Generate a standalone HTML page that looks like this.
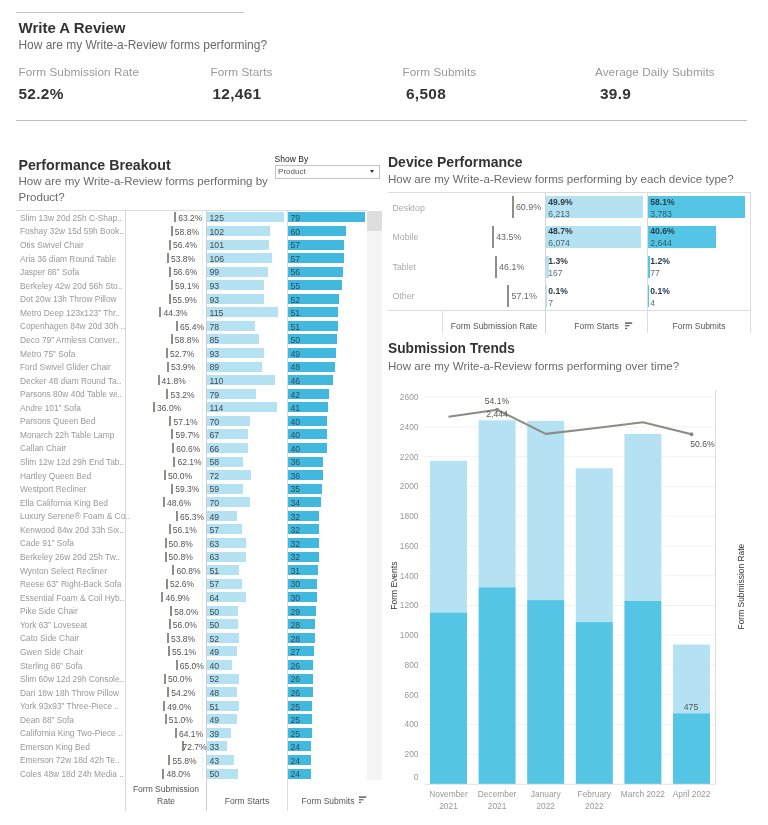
<!DOCTYPE html>
<html><head><meta charset="utf-8"><title>Write A Review</title>
<style>
html,body{margin:0;padding:0;background:#fff;}
body{width:768px;height:825px;position:relative;overflow:hidden;font-family:"Liberation Sans",sans-serif;color:#333;}
.a{position:absolute;white-space:nowrap;line-height:1;}
.h1{font-size:15px;font-weight:bold;color:#333;}
.sub{font-size:11.55px;color:#6a6a6a;}
.kl{font-size:11.75px;color:#999;letter-spacing:0.05px;}
.kv{font-size:15.4px;font-weight:bold;color:#333;letter-spacing:0.3px;}
.rl{font-size:8.4px;color:#999;left:20px;}
.rt{font-size:8.5px;color:#555;}
.bl{font-size:8.7px;color:#3f4a50;}
.hd{font-size:8.5px;color:#555;text-align:center;}
.ln{position:absolute;background:#ccc;}
.bar{position:absolute;}
.ax{font-size:8.4px;color:#999;}
</style></head><body>

<div class="ln" style="left:15.5px;top:12.3px;width:228.5px;height:1px;background:#c4c4c4"></div>
<div class="a h1" style="left:18.5px;top:20px">Write A Review</div>
<div class="a sub" style="left:18.5px;top:40px;font-size:11.95px">How are my Write-a-Review forms performing?</div>
<div class="a kl" style="left:18.5px;top:66px">Form Submission Rate</div>
<div class="a kv" style="left:18.5px;top:86px">52.2%</div>
<div class="a kl" style="left:210.5px;top:66px">Form Starts</div>
<div class="a kv" style="left:212.5px;top:86px">12,461</div>
<div class="a kl" style="left:402.5px;top:66px">Form Submits</div>
<div class="a kv" style="left:406px;top:86px">6,508</div>
<div class="a kl" style="left:595px;top:66px">Average Daily Submits</div>
<div class="a kv" style="left:600px;top:86px">39.9</div>
<div class="ln" style="left:16px;top:119.5px;width:731px;height:1.5px;background:#bdbdbd"></div>
<div class="a h1" style="left:18.5px;top:157.5px;font-size:14.2px">Performance Breakout</div>
<div class="a sub" style="left:18.5px;top:176px;">How are my Write-a-Review forms performing by</div>
<div class="a sub" style="left:18.5px;top:191.6px;">Product?</div>
<div class="a" style="left:274.6px;top:154.6px;font-size:8.5px;color:#222;">Show By</div>
<div class="a" style="left:274.5px;top:165px;width:105px;height:13.5px;border:1px solid #c4c4c4;box-sizing:border-box;background:#fff;font-size:8px;color:#555;"><span style="position:absolute;left:2.6px;top:2.4px">Product</span><span style="position:absolute;right:4.3px;top:4.2px;width:0;height:0;border-left:2px solid transparent;border-right:2px solid transparent;border-top:3px solid #333"></span></div>
<div class="ln" style="left:16px;top:210px;width:351px;height:1px;background:#dcdcdc"></div>
<div class="ln" style="left:125px;top:210px;width:1px;height:601px;background:#d8d8d8"></div>
<div class="ln" style="left:202px;top:210px;width:1px;height:570px;background:#eeeeee"></div>
<div class="ln" style="left:206px;top:210px;width:1px;height:601px;background:#cfcfcf"></div>
<div class="ln" style="left:287px;top:210px;width:1px;height:601px;background:#dcdcdc"></div>
<div class="bar" style="left:366.5px;top:210.5px;width:15.5px;height:569px;background:#f5f5f5"></div>
<div class="bar" style="left:366.5px;top:210.5px;width:15.5px;height:20px;background:#dedede"></div>
<div class="a rl" style="top:213.88px">Slim 13w 20d 25h C-Shap..</div>
<div class="bar" style="left:174px;top:212.40px;width:1.5px;height:10px;background:#8f8e86"></div>
<div class="a rt" style="left:178.30px;top:214.18px">63.2%</div>
<div class="bar" style="left:207.3px;top:212.40px;width:76.50px;height:10px;background:#b5e2f2"></div>
<div class="a bl" style="left:209.5px;top:214.18px">125</div>
<div class="bar" style="left:287.8px;top:212.40px;width:77.26px;height:10px;background:#41b8dd"></div>
<div class="a bl" style="left:290.5px;top:214.18px;color:#2b4f60">79</div>
<div class="a rl" style="top:227.45px">Foshay 32w 15d 59h Book..</div>
<div class="bar" style="left:171px;top:225.97px;width:1.5px;height:10px;background:#8f8e86"></div>
<div class="a rt" style="left:174.86px;top:227.75px">58.8%</div>
<div class="bar" style="left:207.3px;top:225.97px;width:62.42px;height:10px;background:#b5e2f2"></div>
<div class="a bl" style="left:209.5px;top:227.75px">102</div>
<div class="bar" style="left:287.8px;top:225.97px;width:58.68px;height:10px;background:#41b8dd"></div>
<div class="a bl" style="left:290.5px;top:227.75px;color:#2b4f60">60</div>
<div class="a rl" style="top:241.01px">Otis Swivel Chair</div>
<div class="bar" style="left:169px;top:239.53px;width:1.5px;height:10px;background:#8f8e86"></div>
<div class="a rt" style="left:172.99px;top:241.31px">56.4%</div>
<div class="bar" style="left:207.3px;top:239.53px;width:61.81px;height:10px;background:#b5e2f2"></div>
<div class="a bl" style="left:209.5px;top:241.31px">101</div>
<div class="bar" style="left:287.8px;top:239.53px;width:55.75px;height:10px;background:#41b8dd"></div>
<div class="a bl" style="left:290.5px;top:241.31px;color:#2b4f60">57</div>
<div class="a rl" style="top:254.58px">Aria 36 diam Round Table</div>
<div class="bar" style="left:167px;top:253.09px;width:1.5px;height:10px;background:#8f8e86"></div>
<div class="a rt" style="left:170.96px;top:254.88px">53.8%</div>
<div class="bar" style="left:207.3px;top:253.09px;width:64.87px;height:10px;background:#b5e2f2"></div>
<div class="a bl" style="left:209.5px;top:254.88px">106</div>
<div class="bar" style="left:287.8px;top:253.09px;width:55.75px;height:10px;background:#41b8dd"></div>
<div class="a bl" style="left:290.5px;top:254.88px;color:#2b4f60">57</div>
<div class="a rl" style="top:268.14px">Jasper 86” Sofa</div>
<div class="bar" style="left:169px;top:266.66px;width:1.5px;height:10px;background:#8f8e86"></div>
<div class="a rt" style="left:173.15px;top:268.44px">56.6%</div>
<div class="bar" style="left:207.3px;top:266.66px;width:60.59px;height:10px;background:#b5e2f2"></div>
<div class="a bl" style="left:209.5px;top:268.44px">99</div>
<div class="bar" style="left:287.8px;top:266.66px;width:54.77px;height:10px;background:#41b8dd"></div>
<div class="a bl" style="left:290.5px;top:268.44px;color:#2b4f60">56</div>
<div class="a rl" style="top:281.71px">Berkeley 42w 20d 56h Sto..</div>
<div class="bar" style="left:171px;top:280.23px;width:1.5px;height:10px;background:#8f8e86"></div>
<div class="a rt" style="left:175.10px;top:282.01px">59.1%</div>
<div class="bar" style="left:207.3px;top:280.23px;width:56.92px;height:10px;background:#b5e2f2"></div>
<div class="a bl" style="left:209.5px;top:282.01px">93</div>
<div class="bar" style="left:287.8px;top:280.23px;width:53.79px;height:10px;background:#41b8dd"></div>
<div class="a bl" style="left:290.5px;top:282.01px;color:#2b4f60">55</div>
<div class="a rl" style="top:295.27px">Dot 20w 13h Throw Pillow</div>
<div class="bar" style="left:169px;top:293.79px;width:1.5px;height:10px;background:#8f8e86"></div>
<div class="a rt" style="left:172.60px;top:295.57px">55.9%</div>
<div class="bar" style="left:207.3px;top:293.79px;width:56.92px;height:10px;background:#b5e2f2"></div>
<div class="a bl" style="left:209.5px;top:295.57px">93</div>
<div class="bar" style="left:287.8px;top:293.79px;width:50.86px;height:10px;background:#41b8dd"></div>
<div class="a bl" style="left:290.5px;top:295.57px;color:#2b4f60">52</div>
<div class="a rl" style="top:308.84px">Metro Deep 123x123” Thr..</div>
<div class="bar" style="left:159px;top:307.36px;width:1.5px;height:10px;background:#8f8e86"></div>
<div class="a rt" style="left:163.55px;top:309.14px">44.3%</div>
<div class="bar" style="left:207.3px;top:307.36px;width:70.38px;height:10px;background:#b5e2f2"></div>
<div class="a bl" style="left:209.5px;top:309.14px">115</div>
<div class="bar" style="left:287.8px;top:307.36px;width:49.88px;height:10px;background:#41b8dd"></div>
<div class="a bl" style="left:290.5px;top:309.14px;color:#2b4f60">51</div>
<div class="a rl" style="top:322.40px">Copenhagen 84w 20d 30h ..</div>
<div class="bar" style="left:176px;top:320.92px;width:1.5px;height:10px;background:#8f8e86"></div>
<div class="a rt" style="left:180.01px;top:322.70px">65.4%</div>
<div class="bar" style="left:207.3px;top:320.92px;width:47.74px;height:10px;background:#b5e2f2"></div>
<div class="a bl" style="left:209.5px;top:322.70px">78</div>
<div class="bar" style="left:287.8px;top:320.92px;width:49.88px;height:10px;background:#41b8dd"></div>
<div class="a bl" style="left:290.5px;top:322.70px;color:#2b4f60">51</div>
<div class="a rl" style="top:335.97px">Deco 79” Armless Conver..</div>
<div class="bar" style="left:171px;top:334.49px;width:1.5px;height:10px;background:#8f8e86"></div>
<div class="a rt" style="left:174.86px;top:336.27px">58.8%</div>
<div class="bar" style="left:207.3px;top:334.49px;width:52.02px;height:10px;background:#b5e2f2"></div>
<div class="a bl" style="left:209.5px;top:336.27px">85</div>
<div class="bar" style="left:287.8px;top:334.49px;width:48.90px;height:10px;background:#41b8dd"></div>
<div class="a bl" style="left:290.5px;top:336.27px;color:#2b4f60">50</div>
<div class="a rl" style="top:349.53px">Metro 75” Sofa</div>
<div class="bar" style="left:166px;top:348.05px;width:1.5px;height:10px;background:#8f8e86"></div>
<div class="a rt" style="left:170.11px;top:349.83px">52.7%</div>
<div class="bar" style="left:207.3px;top:348.05px;width:56.92px;height:10px;background:#b5e2f2"></div>
<div class="a bl" style="left:209.5px;top:349.83px">93</div>
<div class="bar" style="left:287.8px;top:348.05px;width:47.92px;height:10px;background:#41b8dd"></div>
<div class="a bl" style="left:290.5px;top:349.83px;color:#2b4f60">49</div>
<div class="a rl" style="top:363.10px">Ford Swivel Glider Chair</div>
<div class="bar" style="left:167px;top:361.62px;width:1.5px;height:10px;background:#8f8e86"></div>
<div class="a rt" style="left:171.04px;top:363.40px">53.9%</div>
<div class="bar" style="left:207.3px;top:361.62px;width:54.47px;height:10px;background:#b5e2f2"></div>
<div class="a bl" style="left:209.5px;top:363.40px">89</div>
<div class="bar" style="left:287.8px;top:361.62px;width:46.94px;height:10px;background:#41b8dd"></div>
<div class="a bl" style="left:290.5px;top:363.40px;color:#2b4f60">48</div>
<div class="a rl" style="top:376.66px">Decker 48 diam Round Ta..</div>
<div class="bar" style="left:158px;top:375.18px;width:1.5px;height:10px;background:#8f8e86"></div>
<div class="a rt" style="left:161.60px;top:376.96px">41.8%</div>
<div class="bar" style="left:207.3px;top:375.18px;width:67.32px;height:10px;background:#b5e2f2"></div>
<div class="a bl" style="left:209.5px;top:376.96px">110</div>
<div class="bar" style="left:287.8px;top:375.18px;width:44.99px;height:10px;background:#41b8dd"></div>
<div class="a bl" style="left:290.5px;top:376.96px;color:#2b4f60">46</div>
<div class="a rl" style="top:390.23px">Parsons 80w 40d Table wi..</div>
<div class="bar" style="left:166px;top:388.75px;width:1.5px;height:10px;background:#8f8e86"></div>
<div class="a rt" style="left:170.50px;top:390.53px">53.2%</div>
<div class="bar" style="left:207.3px;top:388.75px;width:48.35px;height:10px;background:#b5e2f2"></div>
<div class="a bl" style="left:209.5px;top:390.53px">79</div>
<div class="bar" style="left:287.8px;top:388.75px;width:41.08px;height:10px;background:#41b8dd"></div>
<div class="a bl" style="left:290.5px;top:390.53px;color:#2b4f60">42</div>
<div class="a rl" style="top:403.79px">Andre 101” Sofa</div>
<div class="bar" style="left:153px;top:402.31px;width:1.5px;height:10px;background:#8f8e86"></div>
<div class="a rt" style="left:157.08px;top:404.09px">36.0%</div>
<div class="bar" style="left:207.3px;top:402.31px;width:69.77px;height:10px;background:#b5e2f2"></div>
<div class="a bl" style="left:209.5px;top:404.09px">114</div>
<div class="bar" style="left:287.8px;top:402.31px;width:40.10px;height:10px;background:#41b8dd"></div>
<div class="a bl" style="left:290.5px;top:404.09px;color:#2b4f60">41</div>
<div class="a rl" style="top:417.36px">Parsons Queen Bed</div>
<div class="bar" style="left:169px;top:415.88px;width:1.5px;height:10px;background:#8f8e86"></div>
<div class="a rt" style="left:173.54px;top:417.66px">57.1%</div>
<div class="bar" style="left:207.3px;top:415.88px;width:42.84px;height:10px;background:#b5e2f2"></div>
<div class="a bl" style="left:209.5px;top:417.66px">70</div>
<div class="bar" style="left:287.8px;top:415.88px;width:39.12px;height:10px;background:#41b8dd"></div>
<div class="a bl" style="left:290.5px;top:417.66px;color:#2b4f60">40</div>
<div class="a rl" style="top:430.92px">Monarch 22h Table Lamp</div>
<div class="bar" style="left:171px;top:429.44px;width:1.5px;height:10px;background:#8f8e86"></div>
<div class="a rt" style="left:175.57px;top:431.22px">59.7%</div>
<div class="bar" style="left:207.3px;top:429.44px;width:41.00px;height:10px;background:#b5e2f2"></div>
<div class="a bl" style="left:209.5px;top:431.22px">67</div>
<div class="bar" style="left:287.8px;top:429.44px;width:39.12px;height:10px;background:#41b8dd"></div>
<div class="a bl" style="left:290.5px;top:431.22px;color:#2b4f60">40</div>
<div class="a rl" style="top:444.49px">Callan Chair</div>
<div class="bar" style="left:172px;top:443.00px;width:1.5px;height:10px;background:#8f8e86"></div>
<div class="a rt" style="left:176.27px;top:444.79px">60.6%</div>
<div class="bar" style="left:207.3px;top:443.00px;width:40.39px;height:10px;background:#b5e2f2"></div>
<div class="a bl" style="left:209.5px;top:444.79px">66</div>
<div class="bar" style="left:287.8px;top:443.00px;width:39.12px;height:10px;background:#41b8dd"></div>
<div class="a bl" style="left:290.5px;top:444.79px;color:#2b4f60">40</div>
<div class="a rl" style="top:458.05px">Slim 12w 12d 29h End Tab..</div>
<div class="bar" style="left:173px;top:456.57px;width:1.5px;height:10px;background:#8f8e86"></div>
<div class="a rt" style="left:177.44px;top:458.35px">62.1%</div>
<div class="bar" style="left:207.3px;top:456.57px;width:35.50px;height:10px;background:#b5e2f2"></div>
<div class="a bl" style="left:209.5px;top:458.35px">58</div>
<div class="bar" style="left:287.8px;top:456.57px;width:35.21px;height:10px;background:#41b8dd"></div>
<div class="a bl" style="left:290.5px;top:458.35px;color:#2b4f60">36</div>
<div class="a rl" style="top:471.62px">Hartley Queen Bed</div>
<div class="bar" style="left:164px;top:470.13px;width:1.5px;height:10px;background:#8f8e86"></div>
<div class="a rt" style="left:168.00px;top:471.92px">50.0%</div>
<div class="bar" style="left:207.3px;top:470.13px;width:44.06px;height:10px;background:#b5e2f2"></div>
<div class="a bl" style="left:209.5px;top:471.92px">72</div>
<div class="bar" style="left:287.8px;top:470.13px;width:35.21px;height:10px;background:#41b8dd"></div>
<div class="a bl" style="left:290.5px;top:471.92px;color:#2b4f60">36</div>
<div class="a rl" style="top:485.18px">Westport Recliner</div>
<div class="bar" style="left:171px;top:483.70px;width:1.5px;height:10px;background:#8f8e86"></div>
<div class="a rt" style="left:175.25px;top:485.48px">59.3%</div>
<div class="bar" style="left:207.3px;top:483.70px;width:36.11px;height:10px;background:#b5e2f2"></div>
<div class="a bl" style="left:209.5px;top:485.48px">59</div>
<div class="bar" style="left:287.8px;top:483.70px;width:34.23px;height:10px;background:#41b8dd"></div>
<div class="a bl" style="left:290.5px;top:485.48px;color:#2b4f60">35</div>
<div class="a rl" style="top:498.75px">Ella California King Bed</div>
<div class="bar" style="left:163px;top:497.26px;width:1.5px;height:10px;background:#8f8e86"></div>
<div class="a rt" style="left:166.91px;top:499.05px">48.6%</div>
<div class="bar" style="left:207.3px;top:497.26px;width:42.84px;height:10px;background:#b5e2f2"></div>
<div class="a bl" style="left:209.5px;top:499.05px">70</div>
<div class="bar" style="left:287.8px;top:497.26px;width:33.25px;height:10px;background:#41b8dd"></div>
<div class="a bl" style="left:290.5px;top:499.05px;color:#2b4f60">34</div>
<div class="a rl" style="top:512.31px">Luxury Serene® Foam &amp; Co..</div>
<div class="bar" style="left:176px;top:510.83px;width:1.5px;height:10px;background:#8f8e86"></div>
<div class="a rt" style="left:179.93px;top:512.61px">65.3%</div>
<div class="bar" style="left:207.3px;top:510.83px;width:29.99px;height:10px;background:#b5e2f2"></div>
<div class="a bl" style="left:209.5px;top:512.61px">49</div>
<div class="bar" style="left:287.8px;top:510.83px;width:31.30px;height:10px;background:#41b8dd"></div>
<div class="a bl" style="left:290.5px;top:512.61px;color:#2b4f60">32</div>
<div class="a rl" style="top:525.88px">Kenwood 84w 20d 33h Six..</div>
<div class="bar" style="left:169px;top:524.39px;width:1.5px;height:10px;background:#8f8e86"></div>
<div class="a rt" style="left:172.76px;top:526.18px">56.1%</div>
<div class="bar" style="left:207.3px;top:524.39px;width:34.88px;height:10px;background:#b5e2f2"></div>
<div class="a bl" style="left:209.5px;top:526.18px">57</div>
<div class="bar" style="left:287.8px;top:524.39px;width:31.30px;height:10px;background:#41b8dd"></div>
<div class="a bl" style="left:290.5px;top:526.18px;color:#2b4f60">32</div>
<div class="a rl" style="top:539.44px">Cade 91” Sofa</div>
<div class="bar" style="left:165px;top:537.96px;width:1.5px;height:10px;background:#8f8e86"></div>
<div class="a rt" style="left:168.62px;top:539.74px">50.8%</div>
<div class="bar" style="left:207.3px;top:537.96px;width:38.56px;height:10px;background:#b5e2f2"></div>
<div class="a bl" style="left:209.5px;top:539.74px">63</div>
<div class="bar" style="left:287.8px;top:537.96px;width:31.30px;height:10px;background:#41b8dd"></div>
<div class="a bl" style="left:290.5px;top:539.74px;color:#2b4f60">32</div>
<div class="a rl" style="top:553.01px">Berkeley 26w 20d 25h Tw..</div>
<div class="bar" style="left:165px;top:551.52px;width:1.5px;height:10px;background:#8f8e86"></div>
<div class="a rt" style="left:168.62px;top:553.31px">50.8%</div>
<div class="bar" style="left:207.3px;top:551.52px;width:38.56px;height:10px;background:#b5e2f2"></div>
<div class="a bl" style="left:209.5px;top:553.31px">63</div>
<div class="bar" style="left:287.8px;top:551.52px;width:31.30px;height:10px;background:#41b8dd"></div>
<div class="a bl" style="left:290.5px;top:553.31px;color:#2b4f60">32</div>
<div class="a rl" style="top:566.57px">Wynton Select Recliner</div>
<div class="bar" style="left:172px;top:565.09px;width:1.5px;height:10px;background:#8f8e86"></div>
<div class="a rt" style="left:176.42px;top:566.87px">60.8%</div>
<div class="bar" style="left:207.3px;top:565.09px;width:31.21px;height:10px;background:#b5e2f2"></div>
<div class="a bl" style="left:209.5px;top:566.87px">51</div>
<div class="bar" style="left:287.8px;top:565.09px;width:30.32px;height:10px;background:#41b8dd"></div>
<div class="a bl" style="left:290.5px;top:566.87px;color:#2b4f60">31</div>
<div class="a rl" style="top:580.14px">Reese 63” Right-Back Sofa</div>
<div class="bar" style="left:166px;top:578.65px;width:1.5px;height:10px;background:#8f8e86"></div>
<div class="a rt" style="left:170.03px;top:580.44px">52.6%</div>
<div class="bar" style="left:207.3px;top:578.65px;width:34.88px;height:10px;background:#b5e2f2"></div>
<div class="a bl" style="left:209.5px;top:580.44px">57</div>
<div class="bar" style="left:287.8px;top:578.65px;width:29.34px;height:10px;background:#41b8dd"></div>
<div class="a bl" style="left:290.5px;top:580.44px;color:#2b4f60">30</div>
<div class="a rl" style="top:593.70px">Essential Foam &amp; Coil Hyb..</div>
<div class="bar" style="left:161px;top:592.22px;width:1.5px;height:10px;background:#8f8e86"></div>
<div class="a rt" style="left:165.58px;top:594.00px">46.9%</div>
<div class="bar" style="left:207.3px;top:592.22px;width:39.17px;height:10px;background:#b5e2f2"></div>
<div class="a bl" style="left:209.5px;top:594.00px">64</div>
<div class="bar" style="left:287.8px;top:592.22px;width:29.34px;height:10px;background:#41b8dd"></div>
<div class="a bl" style="left:290.5px;top:594.00px;color:#2b4f60">30</div>
<div class="a rl" style="top:607.27px">Pike Side Chair</div>
<div class="bar" style="left:170px;top:605.78px;width:1.5px;height:10px;background:#8f8e86"></div>
<div class="a rt" style="left:174.24px;top:607.57px">58.0%</div>
<div class="bar" style="left:207.3px;top:605.78px;width:30.60px;height:10px;background:#b5e2f2"></div>
<div class="a bl" style="left:209.5px;top:607.57px">50</div>
<div class="bar" style="left:287.8px;top:605.78px;width:28.36px;height:10px;background:#41b8dd"></div>
<div class="a bl" style="left:290.5px;top:607.57px;color:#2b4f60">29</div>
<div class="a rl" style="top:620.83px">York 63” Loveseat</div>
<div class="bar" style="left:169px;top:619.35px;width:1.5px;height:10px;background:#8f8e86"></div>
<div class="a rt" style="left:172.68px;top:621.13px">56.0%</div>
<div class="bar" style="left:207.3px;top:619.35px;width:30.60px;height:10px;background:#b5e2f2"></div>
<div class="a bl" style="left:209.5px;top:621.13px">50</div>
<div class="bar" style="left:287.8px;top:619.35px;width:27.38px;height:10px;background:#41b8dd"></div>
<div class="a bl" style="left:290.5px;top:621.13px;color:#2b4f60">28</div>
<div class="a rl" style="top:634.40px">Cato Side Chair</div>
<div class="bar" style="left:167px;top:632.91px;width:1.5px;height:10px;background:#8f8e86"></div>
<div class="a rt" style="left:170.96px;top:634.70px">53.8%</div>
<div class="bar" style="left:207.3px;top:632.91px;width:31.82px;height:10px;background:#b5e2f2"></div>
<div class="a bl" style="left:209.5px;top:634.70px">52</div>
<div class="bar" style="left:287.8px;top:632.91px;width:27.38px;height:10px;background:#41b8dd"></div>
<div class="a bl" style="left:290.5px;top:634.70px;color:#2b4f60">28</div>
<div class="a rl" style="top:647.96px">Gwen Side Chair</div>
<div class="bar" style="left:168px;top:646.48px;width:1.5px;height:10px;background:#8f8e86"></div>
<div class="a rt" style="left:171.98px;top:648.26px">55.1%</div>
<div class="bar" style="left:207.3px;top:646.48px;width:29.99px;height:10px;background:#b5e2f2"></div>
<div class="a bl" style="left:209.5px;top:648.26px">49</div>
<div class="bar" style="left:287.8px;top:646.48px;width:26.41px;height:10px;background:#41b8dd"></div>
<div class="a bl" style="left:290.5px;top:648.26px;color:#2b4f60">27</div>
<div class="a rl" style="top:661.53px">Sterling 86” Sofa</div>
<div class="bar" style="left:176px;top:660.04px;width:1.5px;height:10px;background:#8f8e86"></div>
<div class="a rt" style="left:179.70px;top:661.83px">65.0%</div>
<div class="bar" style="left:207.3px;top:660.04px;width:24.48px;height:10px;background:#b5e2f2"></div>
<div class="a bl" style="left:209.5px;top:661.83px">40</div>
<div class="bar" style="left:287.8px;top:660.04px;width:25.43px;height:10px;background:#41b8dd"></div>
<div class="a bl" style="left:290.5px;top:661.83px;color:#2b4f60">26</div>
<div class="a rl" style="top:675.09px">Slim 60w 12d 29h Console..</div>
<div class="bar" style="left:164px;top:673.61px;width:1.5px;height:10px;background:#8f8e86"></div>
<div class="a rt" style="left:168.00px;top:675.39px">50.0%</div>
<div class="bar" style="left:207.3px;top:673.61px;width:31.82px;height:10px;background:#b5e2f2"></div>
<div class="a bl" style="left:209.5px;top:675.39px">52</div>
<div class="bar" style="left:287.8px;top:673.61px;width:25.43px;height:10px;background:#41b8dd"></div>
<div class="a bl" style="left:290.5px;top:675.39px;color:#2b4f60">26</div>
<div class="a rl" style="top:688.66px">Dari 18w 18h Throw Pillow</div>
<div class="bar" style="left:167px;top:687.17px;width:1.5px;height:10px;background:#8f8e86"></div>
<div class="a rt" style="left:171.28px;top:688.96px">54.2%</div>
<div class="bar" style="left:207.3px;top:687.17px;width:29.38px;height:10px;background:#b5e2f2"></div>
<div class="a bl" style="left:209.5px;top:688.96px">48</div>
<div class="bar" style="left:287.8px;top:687.17px;width:25.43px;height:10px;background:#41b8dd"></div>
<div class="a bl" style="left:290.5px;top:688.96px;color:#2b4f60">26</div>
<div class="a rl" style="top:702.22px">York 93x93” Three-Piece ..</div>
<div class="bar" style="left:163px;top:700.74px;width:1.5px;height:10px;background:#8f8e86"></div>
<div class="a rt" style="left:167.22px;top:702.52px">49.0%</div>
<div class="bar" style="left:207.3px;top:700.74px;width:31.21px;height:10px;background:#b5e2f2"></div>
<div class="a bl" style="left:209.5px;top:702.52px">51</div>
<div class="bar" style="left:287.8px;top:700.74px;width:24.45px;height:10px;background:#41b8dd"></div>
<div class="a bl" style="left:290.5px;top:702.52px;color:#2b4f60">25</div>
<div class="a rl" style="top:715.79px">Dean 88” Sofa</div>
<div class="bar" style="left:165px;top:714.30px;width:1.5px;height:10px;background:#8f8e86"></div>
<div class="a rt" style="left:168.78px;top:716.09px">51.0%</div>
<div class="bar" style="left:207.3px;top:714.30px;width:29.99px;height:10px;background:#b5e2f2"></div>
<div class="a bl" style="left:209.5px;top:716.09px">49</div>
<div class="bar" style="left:287.8px;top:714.30px;width:24.45px;height:10px;background:#41b8dd"></div>
<div class="a bl" style="left:290.5px;top:716.09px;color:#2b4f60">25</div>
<div class="a rl" style="top:729.35px">California King Two-Piece ..</div>
<div class="bar" style="left:175px;top:727.87px;width:1.5px;height:10px;background:#8f8e86"></div>
<div class="a rt" style="left:179.00px;top:729.65px">64.1%</div>
<div class="bar" style="left:207.3px;top:727.87px;width:23.87px;height:10px;background:#b5e2f2"></div>
<div class="a bl" style="left:209.5px;top:729.65px">39</div>
<div class="bar" style="left:287.8px;top:727.87px;width:24.45px;height:10px;background:#41b8dd"></div>
<div class="a bl" style="left:290.5px;top:729.65px;color:#2b4f60">25</div>
<div class="a rl" style="top:742.92px">Emerson King Bed</div>
<div class="bar" style="left:182px;top:741.43px;width:1.5px;height:10px;background:#8f8e86"></div>
<div class="a rt" style="left:182.51px;top:743.22px">72.7%</div>
<div class="bar" style="left:207.3px;top:741.43px;width:20.20px;height:10px;background:#b5e2f2"></div>
<div class="a bl" style="left:209.5px;top:743.22px">33</div>
<div class="bar" style="left:287.8px;top:741.43px;width:23.47px;height:10px;background:#41b8dd"></div>
<div class="a bl" style="left:290.5px;top:743.22px;color:#2b4f60">24</div>
<div class="a rl" style="top:756.48px">Emerson 72w 18d 42h Te..</div>
<div class="bar" style="left:168px;top:755.00px;width:1.5px;height:10px;background:#8f8e86"></div>
<div class="a rt" style="left:172.52px;top:756.78px">55.8%</div>
<div class="bar" style="left:207.3px;top:755.00px;width:26.32px;height:10px;background:#b5e2f2"></div>
<div class="a bl" style="left:209.5px;top:756.78px">43</div>
<div class="bar" style="left:287.8px;top:755.00px;width:23.47px;height:10px;background:#41b8dd"></div>
<div class="a bl" style="left:290.5px;top:756.78px;color:#2b4f60">24</div>
<div class="a rl" style="top:770.05px">Coles 48w 18d 24h Media ..</div>
<div class="bar" style="left:162px;top:768.56px;width:1.5px;height:10px;background:#8f8e86"></div>
<div class="a rt" style="left:166.44px;top:770.35px">48.0%</div>
<div class="bar" style="left:207.3px;top:768.56px;width:30.60px;height:10px;background:#b5e2f2"></div>
<div class="a bl" style="left:209.5px;top:770.35px">50</div>
<div class="bar" style="left:287.8px;top:768.56px;width:23.47px;height:10px;background:#41b8dd"></div>
<div class="a bl" style="left:290.5px;top:770.35px;color:#2b4f60">24</div>
<div class="a hd" style="left:126px;width:80px;top:782.6px;line-height:12px;white-space:normal">Form Submission Rate</div>
<div class="a hd" style="left:207px;width:80px;top:794.6px;line-height:12px">Form Starts</div>
<div class="a hd" style="left:301.5px;top:794.6px;line-height:12px">Form Submits</div>
<svg class="a" style="left:359.4px;top:796px" width="8" height="8" viewBox="0 0 8 8"><rect x="0" y="0.4" width="7.2" height="1.4" fill="#555"/><rect x="0" y="3.1" width="4.5" height="1.3" fill="#666"/><rect x="0" y="5.8" width="2.2" height="1.3" fill="#666"/></svg>
<div class="a h1" style="left:388px;top:155.4px;font-size:14px">Device Performance</div>
<div class="a sub" style="left:388px;top:174px;">How are my Write-a-Review forms performing by each device type?</div>
<div class="ln" style="left:388px;top:192px;width:363px;height:1px;background:#dcdcdc"></div>
<div class="ln" style="left:388px;top:310px;width:363px;height:1px;background:#dcdcdc"></div>
<div class="ln" style="left:442px;top:310px;width:1px;height:23px;background:#dcdcdc"></div>
<div class="ln" style="left:545px;top:192px;width:1px;height:141px;background:#d4d4d4"></div>
<div class="ln" style="left:647px;top:192px;width:1px;height:141px;background:#dcdcdc"></div>
<div class="ln" style="left:750px;top:192px;width:1px;height:141px;background:#dcdcdc"></div>
<div class="a" style="left:392.5px;top:203.50px;font-size:8.8px;color:#aaa">Desktop</div>
<div class="bar" style="left:512px;top:196.30px;width:1.5px;height:22px;background:#8f8e86"></div>
<div class="a" style="left:515.92px;top:203.30px;font-size:8.9px;color:#666">60.9%</div>
<div class="bar" style="left:546px;top:196.30px;width:96.74px;height:22px;background:#b5e2f2"></div>
<div class="bar" style="left:648px;top:196.30px;width:97.22px;height:22px;background:#55c5e6"></div>
<div class="a" style="left:548.3px;top:197.80px;font-size:8.6px;font-weight:bold;color:#2e3a40">49.9%</div>
<div class="a" style="left:548.3px;top:209.70px;font-size:8.6px;color:rgba(35,50,58,0.72)">6,213</div>
<div class="a" style="left:650.3px;top:197.80px;font-size:8.6px;font-weight:bold;color:#26404c">58.1%</div>
<div class="a" style="left:650.3px;top:209.70px;font-size:8.6px;color:rgba(35,50,58,0.72)">3,783</div>
<div class="a" style="left:392.5px;top:233.10px;font-size:8.8px;color:#aaa">Mobile</div>
<div class="bar" style="left:492px;top:225.90px;width:1.5px;height:22px;background:#8f8e86"></div>
<div class="a" style="left:496.17px;top:232.90px;font-size:8.9px;color:#666">43.5%</div>
<div class="bar" style="left:546px;top:225.90px;width:94.57px;height:22px;background:#b5e2f2"></div>
<div class="bar" style="left:648px;top:225.90px;width:67.95px;height:22px;background:#55c5e6"></div>
<div class="a" style="left:548.3px;top:227.40px;font-size:8.6px;font-weight:bold;color:#2e3a40">48.7%</div>
<div class="a" style="left:548.3px;top:239.30px;font-size:8.6px;color:rgba(35,50,58,0.72)">6,074</div>
<div class="a" style="left:650.3px;top:227.40px;font-size:8.6px;font-weight:bold;color:#26404c">40.6%</div>
<div class="a" style="left:650.3px;top:239.30px;font-size:8.6px;color:rgba(35,50,58,0.72)">2,644</div>
<div class="a" style="left:392.5px;top:262.70px;font-size:8.8px;color:#aaa">Tablet</div>
<div class="bar" style="left:495px;top:255.50px;width:1.5px;height:22px;background:#8f8e86"></div>
<div class="a" style="left:499.12px;top:262.50px;font-size:8.9px;color:#666">46.1%</div>
<div class="bar" style="left:546px;top:255.50px;width:2.60px;height:22px;background:#b5e2f2"></div>
<div class="bar" style="left:648px;top:255.50px;width:1.98px;height:22px;background:#55c5e6"></div>
<div class="a" style="left:548.3px;top:257.00px;font-size:8.6px;font-weight:bold;color:#2e3a40">1.3%</div>
<div class="a" style="left:548.3px;top:268.90px;font-size:8.6px;color:rgba(35,50,58,0.72)">167</div>
<div class="a" style="left:650.3px;top:257.00px;font-size:8.6px;font-weight:bold;color:#26404c">1.2%</div>
<div class="a" style="left:650.3px;top:268.90px;font-size:8.6px;color:rgba(35,50,58,0.72)">77</div>
<div class="a" style="left:392.5px;top:292.30px;font-size:8.8px;color:#aaa">Other</div>
<div class="bar" style="left:507px;top:285.10px;width:1.5px;height:22px;background:#8f8e86"></div>
<div class="a" style="left:511.61px;top:292.10px;font-size:8.9px;color:#666">57.1%</div>
<div class="bar" style="left:546px;top:285.10px;width:0.30px;height:22px;background:#b5e2f2"></div>
<div class="bar" style="left:648px;top:285.10px;width:0.30px;height:22px;background:#55c5e6"></div>
<div class="a" style="left:548.3px;top:286.60px;font-size:8.6px;font-weight:bold;color:#2e3a40">0.1%</div>
<div class="a" style="left:548.3px;top:298.50px;font-size:8.6px;color:rgba(35,50,58,0.72)">7</div>
<div class="a" style="left:650.3px;top:286.60px;font-size:8.6px;font-weight:bold;color:#26404c">0.1%</div>
<div class="a" style="left:650.3px;top:298.50px;font-size:8.6px;color:rgba(35,50,58,0.72)">4</div>
<div class="a hd" style="left:443px;width:102px;top:322px;">Form Submission Rate</div>
<div class="a hd" style="left:550.5px;width:92px;top:322px;">Form Starts</div>
<svg class="a" style="left:624.6px;top:322.2px" width="8" height="8" viewBox="0 0 8 8"><rect x="0" y="0.4" width="7.2" height="1.4" fill="#555"/><rect x="0" y="3.1" width="4.5" height="1.3" fill="#666"/><rect x="0" y="5.8" width="2.2" height="1.3" fill="#666"/></svg>
<div class="a hd" style="left:648px;width:102px;top:322px;">Form Submits</div>
<div class="a h1" style="left:388px;top:342.4px;font-size:13.75px">Submission Trends</div>
<div class="a sub" style="left:388px;top:361px;">How are my Write-a-Review forms performing over time?</div>
<svg class="a" style="left:0;top:380px" width="768" height="445" viewBox="0 380 768 445" font-family="Liberation Sans, sans-serif">
<text x="418.5" y="779.80" text-anchor="end" font-size="8.4" fill="#999">0</text>
<line x1="424.2" x2="715.5" y1="754.24" y2="754.24" stroke="#f2f2f2" stroke-width="1"/>
<text x="418.5" y="757.24" text-anchor="end" font-size="8.4" fill="#999">200</text>
<line x1="424.2" x2="715.5" y1="724.48" y2="724.48" stroke="#f2f2f2" stroke-width="1"/>
<text x="418.5" y="727.48" text-anchor="end" font-size="8.4" fill="#999">400</text>
<line x1="424.2" x2="715.5" y1="694.72" y2="694.72" stroke="#f2f2f2" stroke-width="1"/>
<text x="418.5" y="697.72" text-anchor="end" font-size="8.4" fill="#999">600</text>
<line x1="424.2" x2="715.5" y1="664.96" y2="664.96" stroke="#f2f2f2" stroke-width="1"/>
<text x="418.5" y="667.96" text-anchor="end" font-size="8.4" fill="#999">800</text>
<line x1="424.2" x2="715.5" y1="635.20" y2="635.20" stroke="#f2f2f2" stroke-width="1"/>
<text x="418.5" y="638.20" text-anchor="end" font-size="8.4" fill="#999">1000</text>
<line x1="424.2" x2="715.5" y1="605.44" y2="605.44" stroke="#f2f2f2" stroke-width="1"/>
<text x="418.5" y="608.44" text-anchor="end" font-size="8.4" fill="#999">1200</text>
<line x1="424.2" x2="715.5" y1="575.68" y2="575.68" stroke="#f2f2f2" stroke-width="1"/>
<text x="418.5" y="578.68" text-anchor="end" font-size="8.4" fill="#999">1400</text>
<line x1="424.2" x2="715.5" y1="545.92" y2="545.92" stroke="#f2f2f2" stroke-width="1"/>
<text x="418.5" y="548.92" text-anchor="end" font-size="8.4" fill="#999">1600</text>
<line x1="424.2" x2="715.5" y1="516.16" y2="516.16" stroke="#f2f2f2" stroke-width="1"/>
<text x="418.5" y="519.16" text-anchor="end" font-size="8.4" fill="#999">1800</text>
<line x1="424.2" x2="715.5" y1="486.40" y2="486.40" stroke="#f2f2f2" stroke-width="1"/>
<text x="418.5" y="489.40" text-anchor="end" font-size="8.4" fill="#999">2000</text>
<line x1="424.2" x2="715.5" y1="456.64" y2="456.64" stroke="#f2f2f2" stroke-width="1"/>
<text x="418.5" y="459.64" text-anchor="end" font-size="8.4" fill="#999">2200</text>
<line x1="424.2" x2="715.5" y1="426.88" y2="426.88" stroke="#f2f2f2" stroke-width="1"/>
<text x="418.5" y="429.88" text-anchor="end" font-size="8.4" fill="#999">2400</text>
<line x1="424.2" x2="715.5" y1="397.12" y2="397.12" stroke="#f2f2f2" stroke-width="1"/>
<text x="418.5" y="400.12" text-anchor="end" font-size="8.4" fill="#999">2600</text>
<line x1="715.5" x2="715.5" y1="390" y2="784" stroke="#dcdcdc" stroke-width="1"/>
<rect x="430.00" y="460.81" width="37" height="151.78" fill="#b5e2f2"/>
<rect x="430.00" y="612.58" width="37" height="171.42" fill="#55c5e6"/>
<text x="448.50" y="796.5" text-anchor="middle" font-size="8.4" fill="#999">November</text>
<text x="448.50" y="808.5" text-anchor="middle" font-size="8.4" fill="#999">2021</text>
<rect x="478.60" y="420.33" width="37" height="166.95" fill="#b5e2f2"/>
<rect x="478.60" y="587.29" width="37" height="196.71" fill="#55c5e6"/>
<text x="497.10" y="796.5" text-anchor="middle" font-size="8.4" fill="#999">December</text>
<text x="497.10" y="808.5" text-anchor="middle" font-size="8.4" fill="#999">2021</text>
<rect x="527.20" y="420.93" width="37" height="179.16" fill="#b5e2f2"/>
<rect x="527.20" y="600.08" width="37" height="183.92" fill="#55c5e6"/>
<text x="545.70" y="796.5" text-anchor="middle" font-size="8.4" fill="#999">January</text>
<text x="545.70" y="808.5" text-anchor="middle" font-size="8.4" fill="#999">2022</text>
<rect x="575.80" y="468.25" width="37" height="153.86" fill="#b5e2f2"/>
<rect x="575.80" y="622.11" width="37" height="161.89" fill="#55c5e6"/>
<text x="594.30" y="796.5" text-anchor="middle" font-size="8.4" fill="#999">February</text>
<text x="594.30" y="808.5" text-anchor="middle" font-size="8.4" fill="#999">2022</text>
<rect x="624.40" y="433.87" width="37" height="167.10" fill="#b5e2f2"/>
<rect x="624.40" y="600.98" width="37" height="183.02" fill="#55c5e6"/>
<text x="642.90" y="796.5" text-anchor="middle" font-size="8.4" fill="#999">March 2022</text>
<rect x="673.00" y="644.57" width="37" height="68.75" fill="#b5e2f2"/>
<rect x="673.00" y="713.32" width="37" height="70.68" fill="#55c5e6"/>
<text x="691.50" y="796.5" text-anchor="middle" font-size="8.4" fill="#999">April 2022</text>
<line x1="424.2" x2="715.5" y1="784.3" y2="784.3" stroke="#e2e2e2" stroke-width="1"/>
<path d="M448.50 416.8 L497.10 409.7 L545.70 433.9 L594.30 428.2 L642.90 422.3 L691.50 434.3" fill="none" stroke="#8c8c86" stroke-width="2.1" stroke-linejoin="round"/>
<circle cx="497.10" cy="409.7" r="2" fill="#8c8c86"/>
<circle cx="691.50" cy="434.3" r="2" fill="#8c8c86"/>
<text x="497" y="404" text-anchor="middle" font-size="8.6" fill="#555">54.1%</text>
<text x="497" y="416.5" text-anchor="middle" font-size="8.6" fill="#555">2,444</text>
<text x="702.5" y="446.5" text-anchor="middle" font-size="8.6" fill="#555">50.6%</text>
<text x="691" y="710" text-anchor="middle" font-size="8.6" fill="#555">475</text>
<text transform="translate(397,585.7) rotate(-90)" text-anchor="middle" font-size="8.5" fill="#333">Form Events</text>
<text transform="translate(743.5,586.6) rotate(-90)" text-anchor="middle" font-size="8.45" fill="#333">Form Submission Rate</text>
</svg>
</body></html>
